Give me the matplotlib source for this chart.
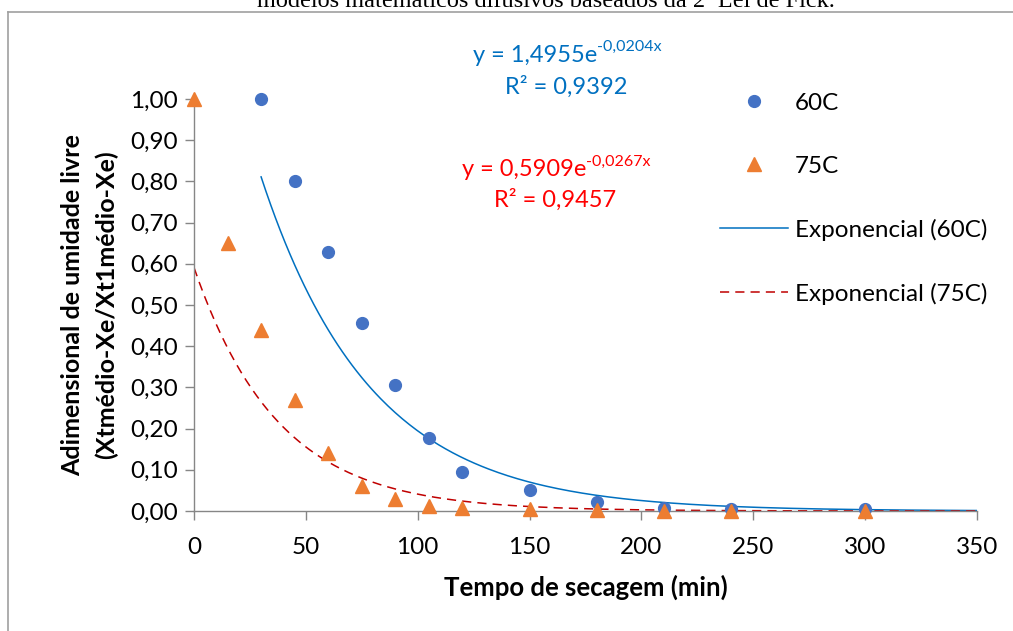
import numpy as np
import matplotlib
matplotlib.use("Agg")
import matplotlib.pyplot as plt
from matplotlib.lines import Line2D
from matplotlib.ticker import FuncFormatter

plt.rcParams['font.family'] = ['Lato', 'DejaVu Sans']

# dados
tempo_60 = [30, 45, 60, 75, 90, 105, 120, 150, 180, 210, 240, 300]
y_60 = [1.00, 0.80, 0.628, 0.457, 0.306, 0.178, 0.094, 0.050, 0.023, 0.008, 0.005, 0.004]

tempo_75 = [0, 15, 30, 45, 60, 75, 90, 105, 120, 150, 180, 210, 240, 300]
y_75 = [1.00, 0.65, 0.44, 0.27, 0.14, 0.06, 0.03, 0.013, 0.007, 0.004, 0.002, 0.001, 0.0, 0.0]

# coeficientes das linhas de tendência (Excel)
a_60, b_60 = 1.4955, -0.0204
a_75, b_75 = 0.5909, -0.0267
eq_60 = ('y = 1,4955e', '-0,0204x', 'R² = 0,9392')
eq_75 = ('y = 0,5909e', '-0,0267x', 'R² = 0,9457')

W, H = 1013, 631
fig = plt.figure(figsize=(W / 100, H / 100), dpi=100)
ax = fig.add_axes([194 / W, 1 - 511 / H, (977 - 194) / W, (511 - 99) / H])

AZUL = '#4472C4'
LARANJA = '#ED7D31'
CINZA = '#868686'

x_tend60 = np.linspace(30, 350, 300)
x_tend75 = np.linspace(0, 350, 300)

ax.plot(tempo_60, y_60, 'o', color=AZUL, markersize=8.5, clip_on=False,
        label='60C', zorder=3)
ax.plot(tempo_75, y_75, '^', color=LARANJA, markersize=10, clip_on=False,
        label='75C', zorder=3)
ax.plot(x_tend60, a_60 * np.exp(b_60 * x_tend60), '-', color='#0070C0',
        lw=1.1, label='Exponencial (60C)', zorder=2)
ax.plot(x_tend75, a_75 * np.exp(b_75 * x_tend75), color='#C00000',
        lw=1.1, dashes=[6, 4], label='Exponencial (75C)', zorder=2)

ax.set_xlim(0, 350)
ax.set_ylim(0, 1.0)
ax.set_xticks(np.arange(0, 351, 50))
ax.set_yticks(np.arange(0, 1.01, 0.1))
ax.yaxis.set_major_formatter(FuncFormatter(lambda v, p: f'{v:.2f}'.replace('.', ',')))

for s in ['top', 'right']:
    ax.spines[s].set_visible(False)
for s in ['left', 'bottom']:
    ax.spines[s].set_color(CINZA)
    ax.spines[s].set_linewidth(1.0)
ax.tick_params(axis='both', direction='out', color=CINZA, width=1.0,
               length=6.5, labelsize=17.5, labelcolor='black')
ax.tick_params(axis='x', pad=12)
ax.tick_params(axis='y', pad=5)

ax.set_xlabel('Tempo de secagem (min)', fontsize=18.5, fontweight='bold', labelpad=12)
ax.set_ylabel('Adimensional de umidade livre\n(Xtmédio-Xe/Xt1médio-Xe)',
              fontsize=18, fontweight='bold', linespacing=1.5, labelpad=9)


def equacao(x, y1, y2, eq, cor):
    """Equação da tendência com expoente sobrescrito e R²"""
    base = fig.text(x / W, 1 - y1 / H, eq[0], color=cor, fontsize=17,
                    ha='left', va='center')
    ax.annotate(eq[1], xy=(1.0, 0.55), xycoords=base, color=cor,
                fontsize=11.5, ha='left', va='bottom')
    fig.text((x + 32) / W, 1 - y2 / H, eq[2], color=cor, fontsize=17,
             ha='left', va='center')


equacao(473, 55, 87, eq_60, '#0070C0')
equacao(462, 170, 200, eq_75, '#FF0000')

ax.legend(loc='upper left', bbox_to_anchor=(698 / W, 1 - 71 / H),
          bbox_transform=fig.transFigure, frameon=False, fontsize=17.5,
          labelspacing=1.72, handlelength=2.8, handletextpad=0.3)

# título cortado e moldura
fig.text(546 / W, 1 - 7 / H, 'modelos matemáticos difusivos baseados da 2ª Lei de Fick.',
         family='Liberation Serif', fontsize=17.5, ha='center', va='baseline')
fig.add_artist(Line2D([8 / W, 1.0], [1 - 12 / H, 1 - 12 / H], color='#A0A0A0',
                      lw=1.2, transform=fig.transFigure))
fig.add_artist(Line2D([8 / W, 8 / W], [0, 1 - 12 / H], color='#A0A0A0',
                      lw=1.2, transform=fig.transFigure))

fig.savefig('out.png', dpi=100)
